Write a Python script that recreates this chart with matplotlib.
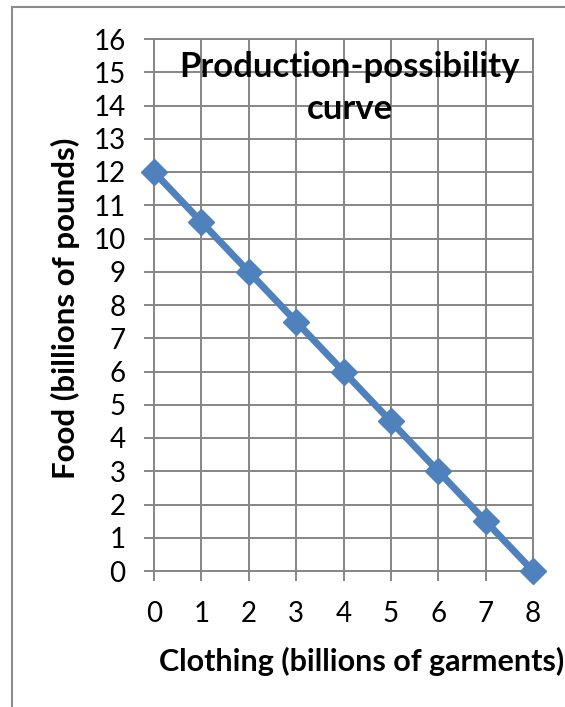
import matplotlib
matplotlib.use("Agg")
import matplotlib.pyplot as plt
from matplotlib.patches import Rectangle

# ---- Data ----
clothing = [0, 1, 2, 3, 4, 5, 6, 7, 8]
food = [12, 10.5, 9, 7.5, 6, 4.5, 3, 1.5, 0]

plt.rcParams["font.family"] = ["Lato", "DejaVu Sans"]

W, H = 565, 707
fig = plt.figure(figsize=(W / 100, H / 100), dpi=100)

# plot area in pixels: x 154..533, y 39..571
ax = fig.add_axes([154 / W, 1 - 571 / H, (533 - 154) / W, (571 - 39) / H])
ax.plot(clothing, food, color="#4F81BD", lw=5, marker="D", ms=13.5,
        clip_on=False, zorder=3)

ax.set_xlim(0, 8)
ax.set_ylim(0, 16)
ax.set_xticks(range(0, 9))
ax.set_yticks(range(0, 17))
ax.grid(True, color="#868686", lw=1.4)
for s in ax.spines.values():
    s.set_color("#868686")
    s.set_linewidth(1.4)
ax.tick_params(axis="both", colors="#868686", length=7.5, width=1.4,
               labelsize=20, labelcolor="black")
ax.tick_params(axis="y", pad=13)
ax.tick_params(axis="x", pad=14)
ax.set_axisbelow(True)

fig.text(362 / W, 1 - 661 / H, "Clothing (billions of garments)", fontsize=22,
         fontweight="bold", ha="center", va="center")
fig.text(65 / W, 1 - 308 / H, "Food (billions of pounds)", fontsize=22.5,
         fontweight="bold", ha="center", va="center", rotation=90)

fig.text(350 / W, 1 - 88 / H, "Production-possibility\ncurve", fontsize=25,
         fontweight="bold", ha="center", va="center", linespacing=1.4)

# outer chart frame (right/bottom edges fall outside the image)
fig.patches.append(Rectangle((12 / W, -0.1), 1.2, 1 - 7 / H + 0.1,
                             transform=fig.transFigure, fill=False,
                             ec="#8c8c8c", lw=1.5))

fig.savefig("out.png", dpi=100)
